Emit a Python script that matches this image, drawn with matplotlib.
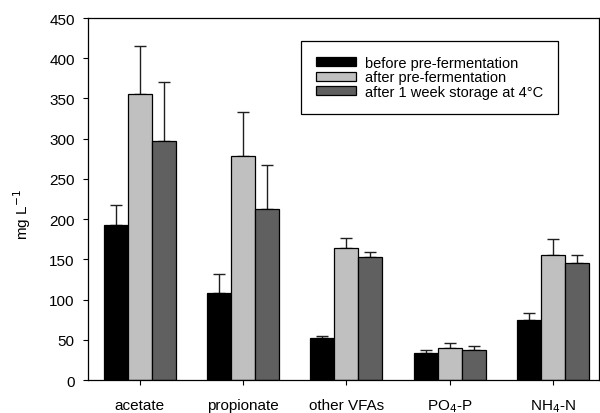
import numpy as np
import matplotlib
matplotlib.use("Agg")
import matplotlib.pyplot as plt

plt.rcParams['font.family'] = ['Liberation Sans', 'DejaVu Sans']

# Concentrations (mg/L) per parameter, mean and upper error
categories = ['acetate', 'propionate', 'other VFAs', 'PO$_4$-P', 'NH$_4$-N']
before = [193, 108, 52, 34, 75]
after = [355, 278, 164.5, 40, 156]
stored = [297.5, 212, 152.5, 37.5, 146]
before_err = [24, 24, 2.5, 3, 8.5]
after_err = [60, 55, 12.5, 5.5, 19.5]
stored_err = [73, 55, 6.5, 4.5, 9]

series = [
    (before, before_err, '#000000', 'before pre-fermentation'),
    (after, after_err, '#c0c0c0', 'after pre-fermentation'),
    (stored, stored_err, '#606060', u'after 1 week storage at 4\u00b0C'),
]

fig = plt.figure(figsize=(6, 4.14), dpi=100)
ax = fig.add_axes([0.1467, 0.0797, 0.851, 0.8744])

x = np.arange(len(categories))
w = 0.232
for i, (vals, errs, col, lab) in enumerate(series):
    pos = x + (i - 1) * w
    ax.bar(pos, vals, width=w, color=col, edgecolor='black', linewidth=0.9,
           label=lab, zorder=2)
    ax.errorbar(pos, vals, yerr=[np.zeros(len(errs)), errs], fmt='none',
                ecolor='#202020', elinewidth=1.0, capsize=4, capthick=1.0,
                zorder=1)

ax.set_xlim(-0.5, 4.44)
ax.set_ylim(0, 450)
ax.set_yticks(np.arange(0, 451, 50))
ax.set_xticks(x)
ax.set_xticklabels(categories)
ax.tick_params(axis='both', direction='out', length=3.6, width=0.8,
               labelsize=11, colors='black')
ax.tick_params(axis='y', pad=6)
ax.tick_params(axis='x', pad=9)
ax.set_ylabel('mg L$^{-1}$', fontsize=11)
ax.yaxis.set_label_coords(-0.108, 0.46)
for s in ax.spines.values():
    s.set_linewidth(0.9)

leg = ax.legend(loc='upper left', bbox_to_anchor=(301 / 600, 1 - 42 / 414),
                bbox_transform=fig.transFigure, fontsize=10.5, frameon=True,
                fancybox=False, edgecolor='black', framealpha=1,
                handlelength=2.8, handleheight=0.55, handletextpad=0.6,
                labelspacing=0.05, borderpad=1.0, borderaxespad=0)
leg.get_frame().set_linewidth(0.9)

fig.savefig('out.png', dpi=100)
